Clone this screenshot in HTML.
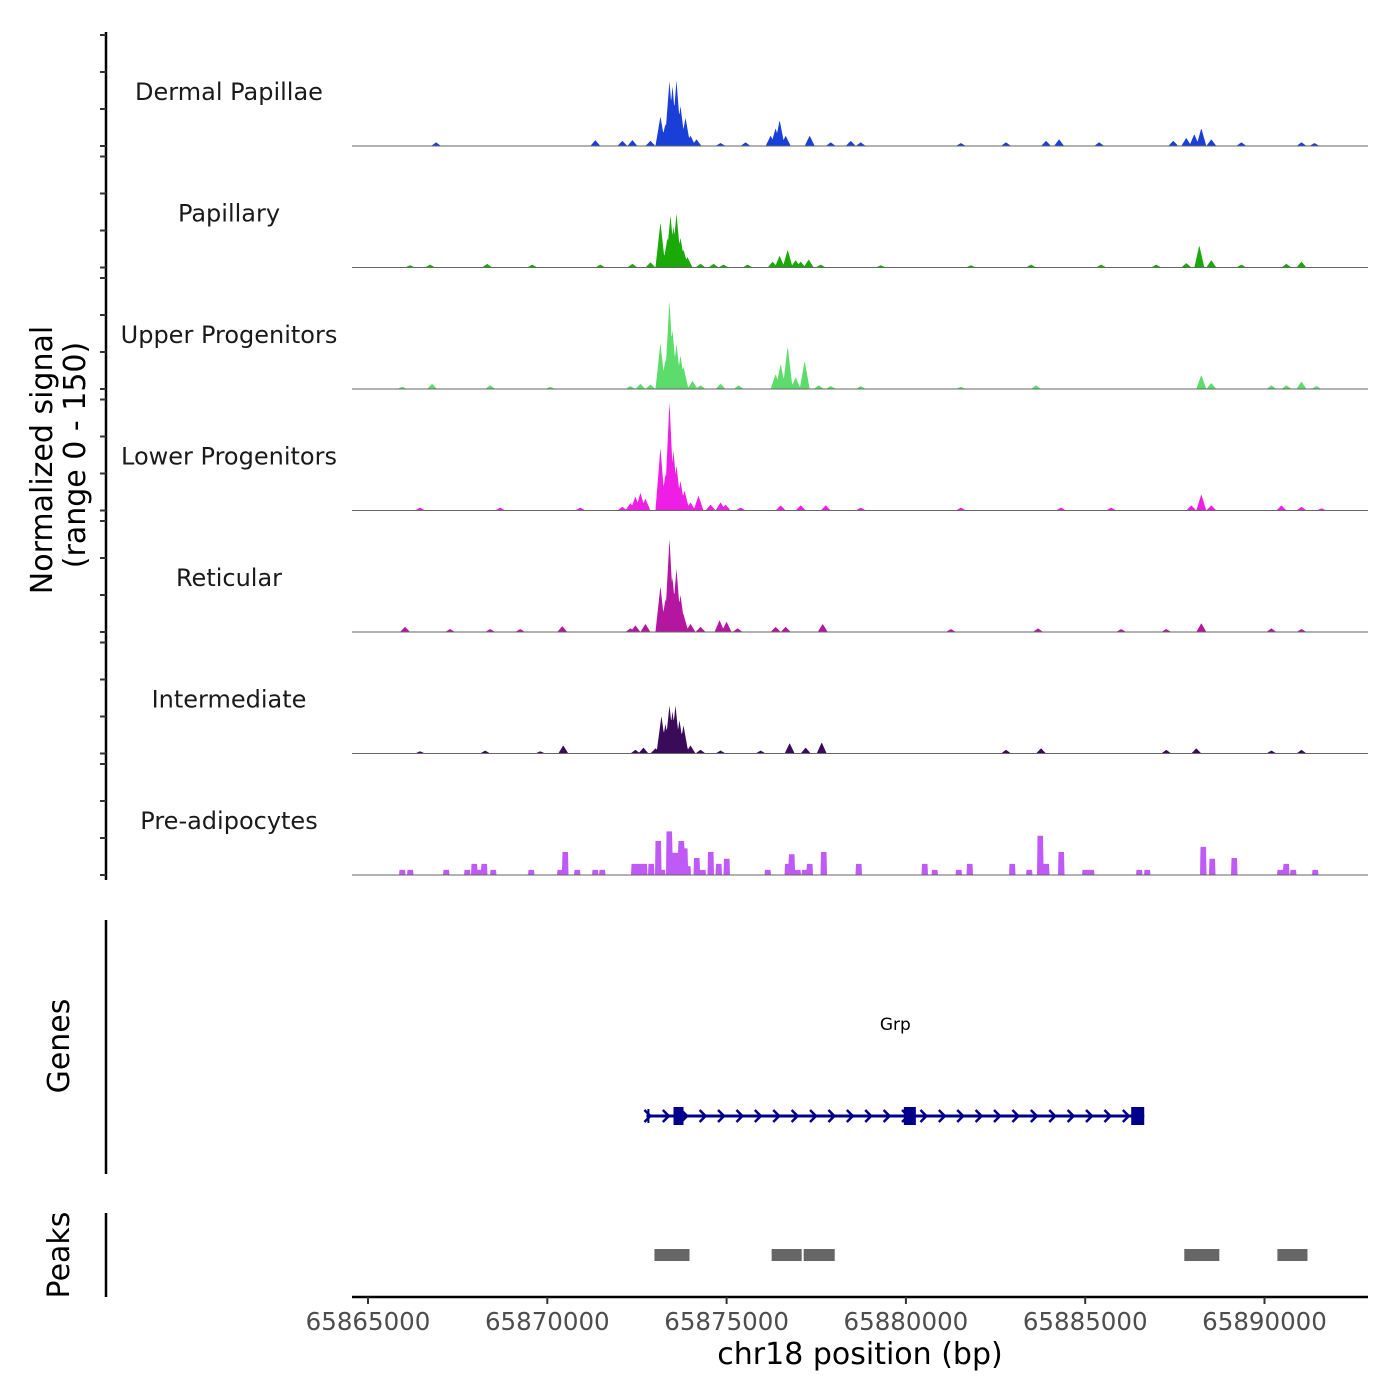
<!DOCTYPE html>
<html><head><meta charset="utf-8"><style>
html,body{margin:0;padding:0;background:#fff;}
svg{display:block;font-family:"DejaVu Sans","Liberation Sans",sans-serif;}
</style></head><body>
<svg id="chart" width="1400" height="1400" viewBox="0 0 1400 1400" xmlns="http://www.w3.org/2000/svg">
<rect width="1400" height="1400" fill="#fff"/>
<g id="tracks"></g>
<g id="genes"></g>
<g id="peaks"></g>
<g id="axes"></g>
<text transform="translate(52,460) rotate(-90)" text-anchor="middle" font-size="30" fill="#000">Normalized signal</text>
<text transform="translate(85,455) rotate(-90)" text-anchor="middle" font-size="30" fill="#000">(range 0 - 150)</text>
<text transform="translate(69,1046) rotate(-90)" text-anchor="middle" font-size="30" fill="#000">Genes</text>
<text transform="translate(69,1255) rotate(-90)" text-anchor="middle" font-size="30" fill="#000">Peaks</text>
<text x="860" y="1364" text-anchor="middle" font-size="30" fill="#000">chr18 position (bp)</text>
</svg>
<script>
const trackNames = ["Dermal Papillae","Papillary","Upper Progenitors","Lower Progenitors","Reticular","Intermediate","Pre-adipocytes"];
const trackColors = ["#1a3fd8","#1aaa08","#5cdc6a","#ee1ee4","#b5169f","#3a0b5a","#c05af6"];
const dpPos = [65866899,65871340,65872094,65872373,65872876,65873155,65873295,65873407,65873491,65873602,65873714,65873854,65873993,65874161,65874831,65875529,65876228,65876367,65876479,65876647,65877317,65877904,65878462,65878741,65881534,65882791,65883908,65884272,65885389,65887456,65887819,65888042,65888238,65888517,65889355,65891031,65891394];
const dpVal = [5,8,7,8,7,40,30,88,81,89,54,38,14,9,4,5,14,24,35,14,14,5,7,5,4,5,7,9,5,7,11,16,24,9,5,5,4];
const papPos = [65866173,65866732,65868324,65869580,65871480,65872373,65872876,65873155,65873351,65873435,65873519,65873602,65873714,65873798,65873910,65874273,65874636,65874915,65875585,65876284,65876479,65876703,65876926,65877066,65877289,65877624,65879300,65881814,65883490,65885445,65886981,65887819,65888182,65888517,65889355,65890612,65891031];
const papVal = [3,4,5,4,4,5,7,61,40,70,55,73,40,24,14,5,5,4,4,8,16,24,10,8,11,4,3,3,4,4,4,6,30,10,4,5,8];
const upPos = [65865949,65866787,65868407,65870083,65872318,65872597,65872876,65873155,65873295,65873407,65873491,65873602,65873714,65873798,65874049,65874273,65874831,65875334,65876367,65876507,65876703,65876926,65877177,65877568,65877904,65878741,65881534,65883629,65888238,65888517,65890193,65890612,65891031,65891450];
const upVal = [3,7,5,3,4,7,6,62,40,119,80,61,45,30,11,5,7,5,20,34,58,16,38,5,4,4,3,5,19,8,5,5,10,4];
const lowPos = [65866452,65868687,65870921,65872094,65872318,65872457,65872597,65872736,65873155,65873295,65873407,65873519,65873602,65873714,65873826,65873993,65874217,65874552,65874831,65874971,65875390,65876507,65877066,65877764,65878741,65881534,65884327,65885724,65887958,65888238,65888517,65890472,65891031,65891589];
const lowVal = [4,4,4,5,10,19,24,16,85,50,147,81,61,40,27,11,20,8,11,8,4,7,7,7,4,4,4,4,7,22,7,7,5,3];
const retPos = [65866033,65867290,65868407,65869245,65870418,65872318,65872457,65872736,65873155,65873295,65873407,65873491,65873602,65873714,65873798,65873993,65874273,65874803,65874999,65875306,65876367,65876647,65877680,65881255,65883685,65886003,65887260,65888238,65890193,65891031];
const retVal = [7,4,4,4,8,5,9,11,62,45,126,74,86,50,24,11,7,16,14,5,7,7,11,4,5,4,4,12,5,4];
const intPos = [65866452,65868268,65869804,65870446,65872457,65872681,65873016,65873183,65873295,65873407,65873491,65873574,65873686,65873798,65873993,65874273,65874831,65875948,65876758,65877205,65877652,65882791,65883769,65887260,65888098,65890193,65891031];
const intVal = [3,4,3,11,5,8,7,51,40,65,57,65,45,38,11,5,4,4,14,8,15,5,7,5,7,4,5];
const prePos = [65865949,65866173,65867178,65867765,65867960,65868128,65868240,65868491,65869552,65870362,65870502,65870837,65871340,65871535,65872429,65872597,65872709,65872904,65873100,65873211,65873407,65873519,65873602,65873742,65873826,65873910,65874161,65874328,65874552,65874775,65874999,65876144,65876703,65876814,65876982,65877177,65877317,65877708,65878686,65880529,65880808,65881479,65881786,65882959,65883434,65883741,65883908,65884327,65884998,65885165,65886506,65886729,65888293,65888545,65889159,65890444,65890612,65890807,65891422];
const preVal = [7,7,7,7,15,7,15,7,7,7,31,7,7,7,15,15,15,15,46,7,59,30,30,46,36,12,23,7,31,15,22,7,15,28,7,7,15,31,15,15,7,7,15,15,7,53,15,31,7,7,7,7,38,22,23,7,15,7,7];
const geneName = "Grp";
const geneStart = 65872764, geneEnd = 65886646;
const exonStarts = [65873519,65879942,65886283];
const exonEnds = [65873798,65880278,65886646];
const peakStarts = [65872988,65876256,65877149,65887763,65890360];
const peakEnds = [65873965,65877094,65878015,65888740,65891198];
const xTicks = [65865000,65870000,65875000,65880000,65885000,65890000];
const yTicks = [0,50,100,150];

const NS = "http://www.w3.org/2000/svg";
const X0 = 352, X1 = 1368;
function xs(bp){ return 368 + (bp - 65865000) * 179.3 / 5000; }
const TRACK_H = 111, YMAX = 150;
function base(i){ return 146 + i * 121.5; }
function ys(i, v){ return base(i) - v / YMAX * TRACK_H; }
function mk(tag, attrs, parent){ const e = document.createElementNS(NS, tag); for (const k in attrs) e.setAttribute(k, attrs[k]); parent.appendChild(e); return e; }

const posArr = [dpPos,papPos,upPos,lowPos,retPos,intPos,prePos];
const valArr = [dpVal,papVal,upVal,lowVal,retVal,intVal,preVal];
const tracks = document.getElementById('tracks');
for (let i = 0; i < 7; i++) {
  const g = mk('g', {}, tracks);
  
  
  const pts = [];
  for (let x = X0; x <= X1; x += 0.5) {
    let v = 0;
    for (let j = 0; j < posArr[i].length; j++) {
      const d = Math.abs(x - xs(posArr[i][j]));
      let k;
      if (i === 6) k = d <= 3 ? 1 : 0;
      else k = Math.max(0, 1 - d / 5);
      v = Math.max(v, valArr[i][j] * k);
    }
    pts.push(x.toFixed(1) + ',' + ys(i, v).toFixed(2));
  }
  const area = mk('polygon', {points: X0 + ',' + base(i) + ' ' + pts.join(' ') + ' ' + X1 + ',' + base(i), fill: trackColors[i]}, g);
  
  
  const bl = mk('line', {x1: X0, x2: X1, y1: base(i), y2: base(i), stroke: '#666', 'stroke-width': 1}, g);
  
  
  const lab = mk('text', {x: 229, y: base(i) - 46, 'text-anchor': 'middle', 'font-size': 24, fill: '#1a1a1a'}, g);
  lab.textContent = trackNames[i];
  
  
}

const axes = document.getElementById('axes');
const yl = mk('line', {x1: 106, x2: 106, y1: 32, y2: 880, stroke: '#000', 'stroke-width': 2.5}, axes);


for (let i = 0; i < 7; i++) for (const t of yTicks) {
  const tk = mk('line', {x1: 100, x2: 106, y1: ys(i, t), y2: ys(i, t), stroke: '#333', 'stroke-width': 2}, axes);
  
  
}
const gl = mk('line', {x1: 106, x2: 106, y1: 920, y2: 1174, stroke: '#000', 'stroke-width': 2.5}, axes);


const pl = mk('line', {x1: 106, x2: 106, y1: 1213, y2: 1297, stroke: '#000', 'stroke-width': 2.5}, axes);


const xl = mk('line', {x1: X0, x2: X1, y1: 1297, y2: 1297, stroke: '#000', 'stroke-width': 2.5}, axes);


for (const t of xTicks) {
  const tk = mk('line', {x1: xs(t), x2: xs(t), y1: 1297, y2: 1304, stroke: '#333', 'stroke-width': 2}, axes);
  
  
  const tl = mk('text', {x: xs(t), y: 1330, 'text-anchor': 'middle', 'font-size': 24.5, fill: '#4d4d4d'}, axes);
  tl.textContent = t;
  
  
}

const genes = document.getElementById('genes');
const GY = 1116, GC = '#00008b';
const gln = mk('line', {x1: xs(geneStart), x2: xs(geneEnd), y1: GY, y2: GY, stroke: GC, 'stroke-width': 3}, genes);


const st = mk('line', {x1: xs(geneStart) + 2, x2: xs(geneStart) + 2, y1: GY - 7, y2: GY + 7, stroke: GC, 'stroke-width': 2}, genes);


for (let x = xs(geneStart) + 2; x < xs(geneEnd) - 4; x += 18.4) {
  const ch = mk('polyline', {points: (x - 4) + ',' + (GY - 6) + ' ' + (x + 2) + ',' + GY + ' ' + (x - 4) + ',' + (GY + 6), fill: 'none', stroke: GC, 'stroke-width': 2.5}, genes);
  
  
}
for (let k = 0; k < exonStarts.length; k++) {
  const ex = mk('rect', {x: xs(exonStarts[k]), y: GY - 9, width: xs(exonEnds[k]) - xs(exonStarts[k]), height: 18, fill: GC}, genes);
  
  
}
const gn = mk('text', {x: (xs(geneStart) + xs(geneEnd)) / 2, y: 1030, 'text-anchor': 'middle', 'font-size': 17, fill: '#000'}, genes);
gn.textContent = geneName;



const peaks = document.getElementById('peaks');
for (let k = 0; k < peakStarts.length; k++) {
  const r = mk('rect', {x: xs(peakStarts[k]), y: 1249, width: xs(peakEnds[k]) - xs(peakStarts[k]), height: 12, fill: '#666'}, peaks);
  
  
}
</script>
</body></html>
